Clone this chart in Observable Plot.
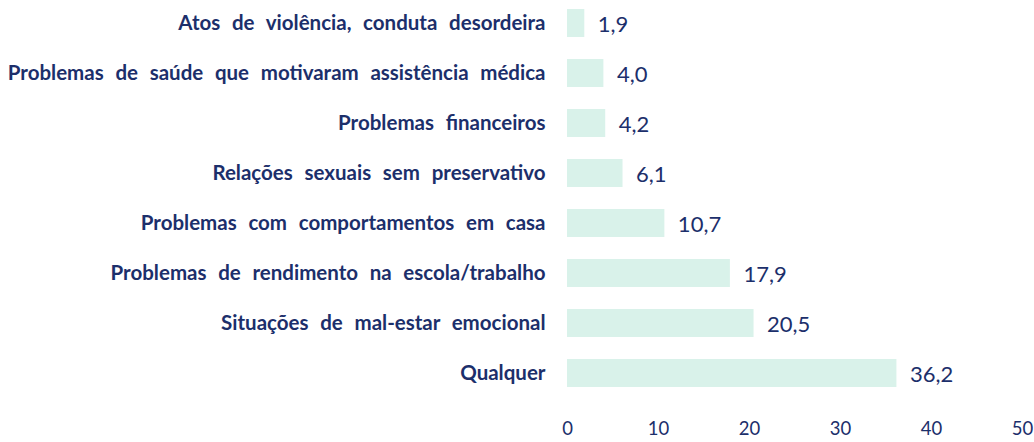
<!DOCTYPE html>
<html><head><meta charset="utf-8">
<script src="https://cdn.jsdelivr.net/npm/d3@7"></script>
<script src="https://cdn.jsdelivr.net/npm/@observablehq/plot@0.6"></script>
<style>
html,body{margin:0;padding:0;background:#fff;}
svg text{word-spacing:6.7px;}
</style>
</head><body>
<div id="chart"></div>
<script>
const categories = [
  "Atos de violência, conduta desordeira",
  "Problemas de saúde que motivaram assistência médica",
  "Problemas financeiros",
  "Relações sexuais sem preservativo",
  "Problemas com comportamentos em casa",
  "Problemas de rendimento na escola/trabalho",
  "Situações de mal-estar emocional",
  "Qualquer"
];
const values = [1.9, 4.0, 4.2, 6.1, 10.7, 17.9, 20.5, 36.2];
const xTicks = [0, 10, 20, 30, 40, 50];

const data = categories.map((c, i) => ({category: c, value: values[i]}));
const fmt = v => v.toFixed(1).replace(".", ",");
const navy = "#1c2f6b";

const chart = Plot.plot({
  width: 1034,
  height: 442,
  marginLeft: 567,
  marginRight: 12,
  marginTop: 0,
  marginBottom: 42,
  style: {fontFamily: "Lato, sans-serif", background: "#fff"},
  x: {domain: [0, 50], ticks: xTicks, axis: null},
  y: {domain: categories, range: [-4.3, 400.3], paddingInner: 0.446, paddingOuter: 0.223, axis: null},
  marks: [
    Plot.barX(data, {x: "value", y: "category", fill: "#d9f2ea"}),
    Plot.text(data, {x: "value", y: "category", text: d => fmt(d.value), textAnchor: "start", dx: 13, dy: 1, fontSize: 22, fill: navy}),
    Plot.text(data, {y: "category", text: "category", frameAnchor: "left", textAnchor: "end", dx: -22, fontSize: 20.5, fontWeight: "bold", fill: navy}),
    Plot.axisX(xTicks, {anchor: "bottom", tickSize: 0, tickPadding: 21, fontSize: 18.5, color: navy, label: null, tickFormat: d => String(d)})
  ]
});
document.getElementById("chart").appendChild(chart);
</script>
</body></html>
